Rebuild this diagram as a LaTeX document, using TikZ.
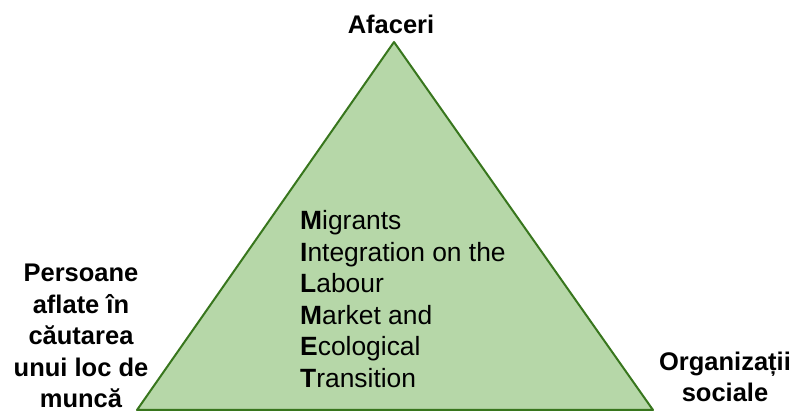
\documentclass[tikz,border=0pt]{standalone}
\usepackage{fontspec}
\setmainfont{Liberation Sans}
\definecolor{leaf}{HTML}{B6D7A8}
\definecolor{leafedge}{HTML}{38761D}
\tikzset{
  corner/.style={font=\bfseries\fontsize{25.5}{31.5}\selectfont, align=center, inner sep=0pt},
  acronym/.style={font=\fontsize{26.4}{31.5}\selectfont, align=left, inner sep=0pt, anchor=west}
}
\begin{document}
\begin{tikzpicture}[x=1pt,y=1pt]
    \useasboundingbox (0,0) rectangle (792,412);

    \coordinate (top) at (394,370);
    \coordinate (bl) at (137,2);
    \coordinate (br) at (653,2);
    \draw[leafedge, fill=leaf, line width=2pt, line join=round] (top) -- (br) -- (bl) -- cycle;

    \node[corner] (afaceri) at (391,388) {Afaceri};
    \node[corner] (persoane) at (81,76) {Persoane\\aflate în\\căutarea\\unui loc de\\muncă};
    \node[corner] (org) at (725,35) {Organizații\\sociale};

    \node[acronym] (milmet) at (300,113) {\textbf{M}igrants\\\textbf{I}ntegration on the\\\textbf{L}abour\\\textbf{M}arket and\\\textbf{E}cological\\\textbf{T}ransition};
  \end{tikzpicture}
\end{document}
